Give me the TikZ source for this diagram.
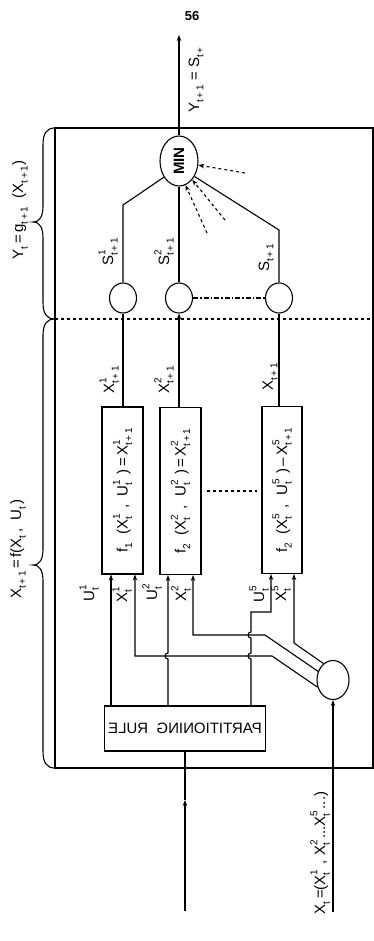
\documentclass[tikz,border=0pt]{standalone}
\usepackage{fontspec}
\setmainfont{Liberation Sans}
\usepackage{graphicx}
\usetikzlibrary{arrows.meta,shapes.geometric}

% small indices, stacked super- and subscript
\newcommand{\sbs}[1]{\raisebox{-0.55ex}{\fontsize{10}{10}\selectfont #1}}
\newcommand{\vr}[3]{#1\rlap{\raisebox{1.0ex}{\fontsize{10}{10}\selectfont #2}}\sbs{#3}}

\begin{document}
\begin{tikzpicture}[x=1pt, y=-1pt, >={Stealth[length=6pt,width=4.5pt]}, line width=1.1pt,
  font=\fontsize{15}{17}\selectfont,
  blob/.style={draw, ellipse, minimum width=27pt, minimum height=30pt, inner sep=0pt},
  fbox/.style={draw, rectangle, minimum width=41pt, minimum height=167pt, inner sep=0pt},
  lbl/.style={rotate=90, inner sep=0pt}]
\useasboundingbox (0,0) rectangle (374,941);

% frame, braces
\draw (55,128) rectangle (373,768);
\draw[dashed] (55,319) -- (374,319);
\draw (55,128) .. controls (46,128) and (43,134) .. (43,145) -- (43,206)
  .. controls (43,216) and (40,222) .. (33,222) .. controls (40,222) and (43,228) .. (43,238)
  -- (43,302) .. controls (43,313) and (46,319) .. (55,319);
\draw (55,319) .. controls (46,319) and (43,325) .. (43,336) -- (43,549)
  .. controls (43,559) and (40,565) .. (33,565) .. controls (40,565) and (43,571) .. (43,581)
  -- (43,751) .. controls (43,762) and (46,768) .. (55,768);
\node[lbl] (gl) at (20,210) {Y\sbs{t}\,=\,g\sbs{t\,+\,1}\ \ (X\sbs{t\,+\,1})};
\node[lbl] (fl) at (18,549) {X\sbs{t\,+\,1}\,=\,f(X\sbs{t}\,,\ \ U\sbs{t}\,)};

\node (pg) at (192,16) {\fontsize{13}{15}\selectfont\bfseries 56};

% nodes
\node[draw, ellipse, minimum width=38pt, minimum height=50pt, inner sep=0pt] (min) at (179,161)
  {\rotatebox{90}{\bfseries MIN}};
\node[blob] (c1) at (123,298) {};
\node[blob] (c2) at (179,298) {};
\node[blob] (c3) at (279,298) {};
\node[fbox] (f1) at (122.5,490.5)
  {\rotatebox{90}{f\sbs{1}\ \ (\vr{X}{1}{t}\ \ ,\ \ \vr{U}{1}{t}\ \ )\,=\,\vr{X}{1}{t\,+\,1}}};
\node[fbox] (f2) at (180.5,491)
  {\rotatebox{90}{f\sbs{2}\ \ (\vr{X}{2}{t}\ \ ,\ \ \vr{U}{2}{t}\ \ )\,=\,\vr{X}{2}{t\,+\,1}}};
\node[fbox, minimum width=40pt] (f3) at (282,490)
  {\rotatebox{90}{f\sbs{2}\ \ (\vr{X}{5}{t}\ \ ,\ \ \vr{U}{5}{t}\ \ )\,--\,\vr{X}{5}{t\,+\,1}}};
\node[draw, minimum width=160pt, minimum height=45pt] (part) at (185,728.5)
  {\scalebox{-1}[1]{PARTITIONING\ \ RULE}};
\node[draw, ellipse, minimum width=32pt, minimum height=39pt, inner sep=0pt] (split) at (333,680) {};

\coordinate (out) at (179,35);
\coordinate (in) at (185,911);
\coordinate (inmid) at (185,800);
\coordinate (xin) at (333,912);
\coordinate (d1) at (245,173);
\coordinate (d2) at (225,220);
\coordinate (d3) at (207,233);
\coordinate (xu1) at (111,0);
\coordinate (xx1) at (135,0);
\coordinate (xu2) at (168,0);
\coordinate (xx2) at (193,0);
\coordinate (xv5) at (251,0);
\coordinate (xu5) at (271,0);
\coordinate (xx5) at (294,0);

% output side
\draw[->] (min.north) -- (out);
\node[lbl] (yl) at (196,80) {Y\sbs{t\,+\,1}\ =\ S\sbs{t\,+}};
\draw (c1.north) -- (123,205) -- (min.227);
\draw (c2.north) -- (min.south);
\draw (c3.north) -- (279,230) -- (min.-45);
\draw[dashed,->] (d1) -- (min.-12);
\draw[dashed,->] (d2) -- (min.-55);
\draw[dashed,->] (d3) -- (min.-75);
\draw[dash pattern=on 5pt off 2pt on 1.5pt off 2pt] (c2.east) -- (c3.west);
\node[lbl] (s1) at (108,252) {\vr{S}{1}{t\,+\,1}};
\node[lbl] (s2) at (164,252) {\vr{S}{2}{t\,+\,1}};
\node[lbl] (s5) at (266,258) {S\sbs{t\,+\,1}};

% boxes to circles
\draw (c1.south) -- (c1.south |- f1.north);
\draw[->] (c2.south |- f2.north) -- (c2.south);
\draw (c3.south) -- (c3.south |- f3.north);
\draw[dashed, shorten <=5pt, shorten >=4pt] (f2.east) -- (f2.east -| f3.west);
\node[lbl] (x1) at (109,380) {\vr{X}{1}{t\,+\,1}};
\node[lbl] (x2) at (164,380) {\vr{X}{2}{t\,+\,1}};
\node[lbl] (x5) at (270,377) {X\sbs{t\,+\,1}};

% inputs of the boxes
\draw[->] (part.north -| xu1) -- (f1.south -| xu1);
\draw[->] (part.north -| xu2) -- (168,659) arc[start angle=-90, end angle=-270, radius=3pt]
  -- (f2.south -| xu2);
\draw[->] (part.north -| xv5) -- (251,659) arc[start angle=-90, end angle=-270, radius=3pt]
  -- (251,638) arc[start angle=-90, end angle=-270, radius=3pt] -- (251,612) -- (271,612)
  -- (f3.south -| xu5);
\draw[->] (split.205) -- (272,656) -- (135,656) -- (f1.south -| xx1);
\draw[->] (split.150) -- (265,635) -- (193,635) -- (f2.south -| xx2);
\draw[->] (split.120) -- (294,643) -- (f3.south -| xx5);
\node[lbl] (u1) at (89,595) {\vr{U}{1}{t}};
\node[lbl] (v1) at (122,596) {\vr{X}{1}{t}};
\node[lbl] (u2) at (152,594) {\vr{U}{2}{t}};
\node[lbl] (v2) at (181,595) {\vr{X}{2}{t}};
\node[lbl] (u5) at (259,596) {\vr{U}{5}{t}};
\node[lbl] (v5) at (281,595) {\vr{X}{5}{t}};

% inputs
\draw[->] (in) -- (inmid);
\draw (inmid) -- (part.south);
\draw[->] (xin) -- (split.south);
\node[lbl] (xl) at (320,853) {X\sbs{t}\,=(\vr{X}{1}{t}\ \ ,\ \vr{X}{2}{t}\ ...\vr{X}{5}{t}\ ...)};
\end{tikzpicture}
\end{document}
